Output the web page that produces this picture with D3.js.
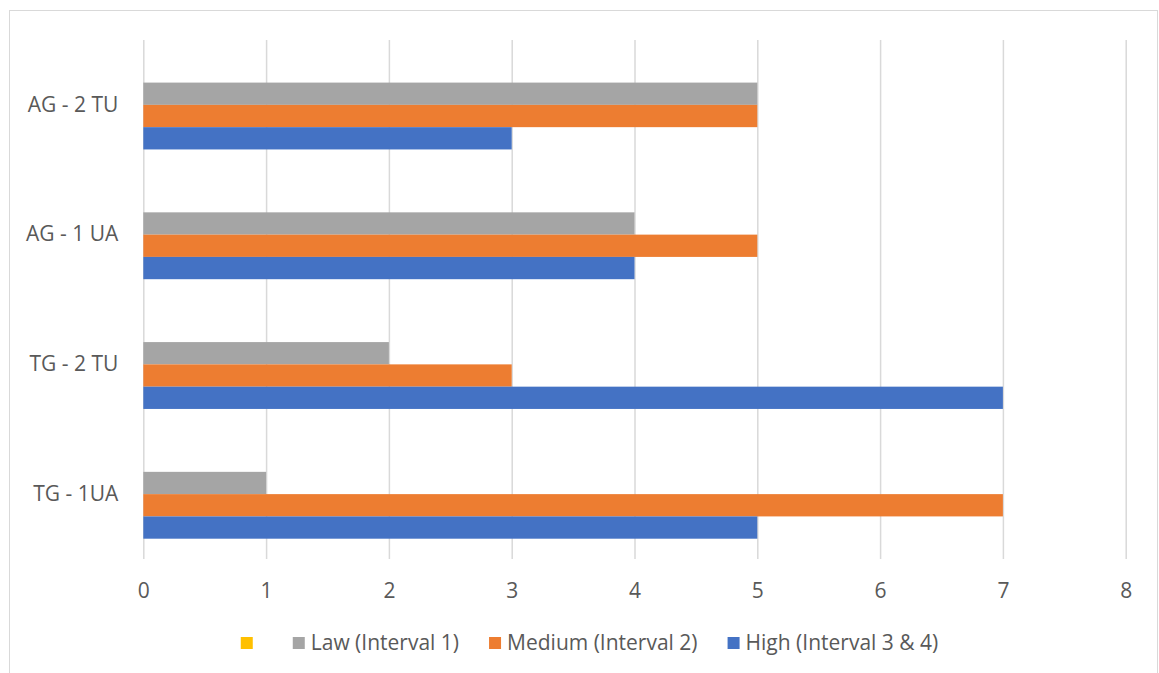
<!DOCTYPE html>
<html><head><meta charset="utf-8">
<script src="https://cdn.jsdelivr.net/npm/d3@7"></script>
<style>
body{margin:0;background:#fff}
text{font-family:"Open Sans",sans-serif;fill:#595959}
</style>
</head><body>
<svg id="c" width="1159" height="673"></svg>
<script>
const categories = ["AG - 2 TU", "AG - 1 UA", "TG - 2 TU", "TG - 1UA"];
const seriesNames = ["", "Law (Interval 1)", "Medium (Interval 2)", "High (Interval 3 & 4)"];
const seriesColors = ["#FFC000", "#A5A5A5", "#ED7D31", "#4472C4"];
const emptyValues = [null, null, null, null];
const lawValues = [5, 4, 2, 1];
const mediumValues = [5, 5, 3, 7];
const highValues = [3, 4, 7, 5];
const xTicks = [0, 1, 2, 3, 4, 5, 6, 7, 8];

const seriesValues = [emptyValues, lawValues, mediumValues, highValues];
const FS = "21px";

const svg = d3.select("#c");
// chart border
svg.append("rect").attr("x", 9.5).attr("y", 10.5).attr("width", 1148).attr("height", 700)
  .attr("fill", "none").attr("stroke", "#d9d9d9").attr("stroke-width", 1);

const plotTop = 40, plotBottom = 559;
const x = d3.scaleLinear().domain([0, 8]).range([143.3, 1125.7]);
const pad = 0.313;
const y = d3.scaleBand().domain(categories).range([plotTop, plotBottom]).paddingInner(pad).paddingOuter(pad / 2);
const ys = d3.scaleBand().domain(seriesNames).range([0, y.bandwidth()]);

// gridlines + x tick labels
const gx = svg.append("g").attr("transform", `translate(0,${plotBottom})`)
  .call(d3.axisBottom(x).tickValues(xTicks).tickFormat(d3.format("d")).tickSize(-(plotBottom - plotTop)).tickPadding(0));
gx.select(".domain").remove();
gx.selectAll(".tick line").attr("stroke", "#d9d9d9").attr("stroke-width", 1.5);
gx.selectAll(".tick text").attr("y", 32).attr("dy", "0.35em").style("font-size", FS).attr("fill", "#595959");

// bars
const rows = [];
seriesNames.forEach((s, si) => {
  categories.forEach((c, ci) => {
    const v = seriesValues[si][ci];
    if (v != null) rows.push({s, c, v, color: seriesColors[si]});
  });
});
svg.append("g").selectAll("rect").data(rows).join("rect")
  .attr("x", x(0))
  .attr("y", d => y(d.c) + ys(d.s))
  .attr("width", d => x(d.v) - x(0))
  .attr("height", ys.bandwidth())
  .attr("fill", d => d.color);

// y labels
const gy = svg.append("g").attr("transform", `translate(${x(0)},0)`)
  .call(d3.axisLeft(y).tickSize(0).tickPadding(25));
gy.select(".domain").remove();
gy.selectAll(".tick text").style("font-size", FS).attr("fill", "#595959");

// legend
const legY = 643, sq = 12;
const leg = svg.append("g");
const items = seriesNames.map((s, i) => ({s, color: seriesColors[i]}));
const tmp = leg.append("text").style("font-size", FS);
items.forEach(it => { tmp.text(it.s); it.w = it.s ? tmp.node().getComputedTextLength() : 0; });
tmp.remove();
const gapSqText = 6;
const widths = items.map(it => it.s ? sq + gapSqText + it.w : sq);
const gaps = items.map(it => it.s ? 30 : 40);
const total = d3.sum(widths) + d3.sum(gaps.slice(0, -1));
let cx = 589.5 - total / 2;
items.forEach((it, i) => {
  leg.append("rect").attr("x", cx).attr("y", legY - sq / 2).attr("width", sq).attr("height", sq).attr("fill", it.color);
  if (it.s) leg.append("text").attr("x", cx + sq + gapSqText).attr("y", legY).attr("dy", "0.35em")
    .style("font-size", FS).text(it.s);
  cx += widths[i] + gaps[i];
});
</script>
</body></html>
